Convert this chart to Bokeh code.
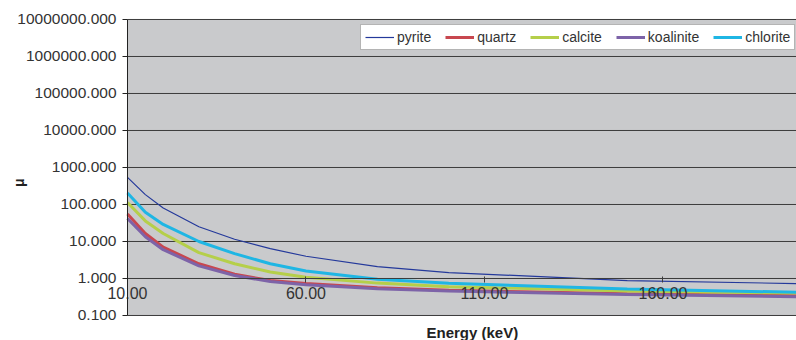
from bokeh.plotting import figure
from bokeh.models import (Range1d, FixedTicker, PrintfTickFormatter, Legend, LegendItem,
                          Label, BoxAnnotation)
from bokeh.embed import file_html
from bokeh.resources import INLINE

energy = [10, 15, 20, 30, 40, 50, 60, 80, 100, 150, 200]
pyrite = [540, 185, 80, 25, 11.5, 6.4, 4.0, 2.1, 1.45, 0.88, 0.72]
quartz = [55, 16.5, 7.0, 2.5, 1.3, 0.88, 0.73, 0.56, 0.48, 0.39, 0.34]
calcite = [113, 36, 16.5, 5.0, 2.5, 1.5, 1.08, 0.75, 0.60, 0.46, 0.40]
koalinite = [42, 13.5, 6.0, 2.2, 1.2, 0.83, 0.68, 0.53, 0.46, 0.37, 0.32]
chlorite = [205, 62, 29, 10, 4.7, 2.5, 1.6, 0.95, 0.74, 0.52, 0.42]

y_ticks = [0.1, 1, 10, 100, 1000, 10000, 100000, 1000000, 10000000]
x_ticks = [10, 60, 110, 160]
x_view_end = 197.4

FONT = "Liberation Sans"

# frame covers the whole canvas; axes are placed at fixed data locations
x_start = -25.575
y_lo = 10 ** (-1.6757)
y_hi = 10 ** (7.5135)

p = figure(width=796, height=340, x_range=Range1d(x_start, x_view_end), y_range=Range1d(y_lo, y_hi),
           y_axis_type="log", output_backend="svg", toolbar_location=None,
           min_border=0)
p.background_fill_color = "white"
p.border_fill_color = "white"
p.outline_line_color = None
p.grid.visible = False

# plot area
p.add_layout(BoxAnnotation(left=x_ticks[0], right=energy[-1], bottom=y_ticks[0], top=y_ticks[-1],
                           fill_color="#c9cacc", fill_alpha=1, line_color="#8a8a8a",
                           line_width=1, level="underlay"))

# horizontal gridlines
p.segment(x0=[x_ticks[0]] * len(y_ticks), x1=[energy[-1]] * len(y_ticks), y0=y_ticks, y1=y_ticks,
          line_color="#3c3c3c", line_width=1)

ya = p.yaxis[0]
ya.fixed_location = x_ticks[0]
ya.bounds = (y_ticks[0], y_ticks[-1])
ya.ticker = FixedTicker(ticks=y_ticks)
ya.formatter = PrintfTickFormatter(format="%.3f")
ya.major_label_text_font = FONT
ya.major_label_text_font_size = "15.5px"
ya.major_label_text_color = "#333333"
ya.major_tick_out = 5
ya.major_tick_in = 0
ya.minor_tick_out = 0
ya.minor_tick_in = 0
ya.major_label_standoff = 6
ya.axis_line_color = "#222222"
ya.major_tick_line_color = "#222222"

xa = p.xaxis[0]
xa.fixed_location = 1
xa.bounds = (x_ticks[0], x_view_end)
xa.ticker = FixedTicker(ticks=x_ticks)
xa.formatter = PrintfTickFormatter(format="%.2f")
xa.major_label_text_font = FONT
xa.major_label_text_font_size = "16px"
xa.major_label_text_color = "#333333"
xa.major_tick_out = 4
xa.major_tick_in = 2
xa.minor_tick_out = 0
xa.minor_tick_in = 0
xa.major_label_standoff = 5
xa.axis_line_color = "#3c3c3c"
xa.major_tick_line_color = "#3c3c3c"

r_py = p.line(energy, pyrite, line_color="#24399b", line_width=1.2)
r_qz = p.line(energy, quartz, line_color="#c8474f", line_width=3)
r_ca = p.line(energy, calcite, line_color="#b5cf4a", line_width=3)
r_ko = p.line(energy, koalinite, line_color="#7d63a8", line_width=3)
r_ch = p.line(energy, chlorite, line_color="#1fb6e4", line_width=3)

legend = Legend(items=[
    LegendItem(label="pyrite", renderers=[r_py]),
    LegendItem(label="quartz", renderers=[r_qz]),
    LegendItem(label="calcite", renderers=[r_ca]),
    LegendItem(label="koalinite", renderers=[r_ko]),
    LegendItem(label="chlorite", renderers=[r_ch]),
], orientation="horizontal", location=(360, 290))
legend.background_fill_color = "white"
legend.background_fill_alpha = 1
legend.border_line_color = "#6a6a6a"
legend.border_line_width = 1
legend.label_text_font = FONT
legend.label_text_font_size = "14px"
legend.label_text_color = "#333333"
legend.glyph_width = 29
legend.glyph_height = 14
legend.label_height = 14
legend.label_standoff = 3
legend.spacing = 14
legend.padding = 4
legend.margin = 0
p.add_layout(legend)

p.add_layout(Label(x=106.6, y=0.0347, text="Energy (keV)", text_align="center",
                   text_baseline="middle", text_font=FONT, text_font_size="15px",
                   text_font_style="bold", text_color="#222222"))
p.add_layout(Label(x=-20.3, y=390, text="μ", text_align="center", text_baseline="middle",
                   angle=1.5708, text_font=FONT, text_font_size="14px",
                   text_font_style="bold", text_color="#222222"))

open("out.html", "w").write(file_html(p, INLINE))
